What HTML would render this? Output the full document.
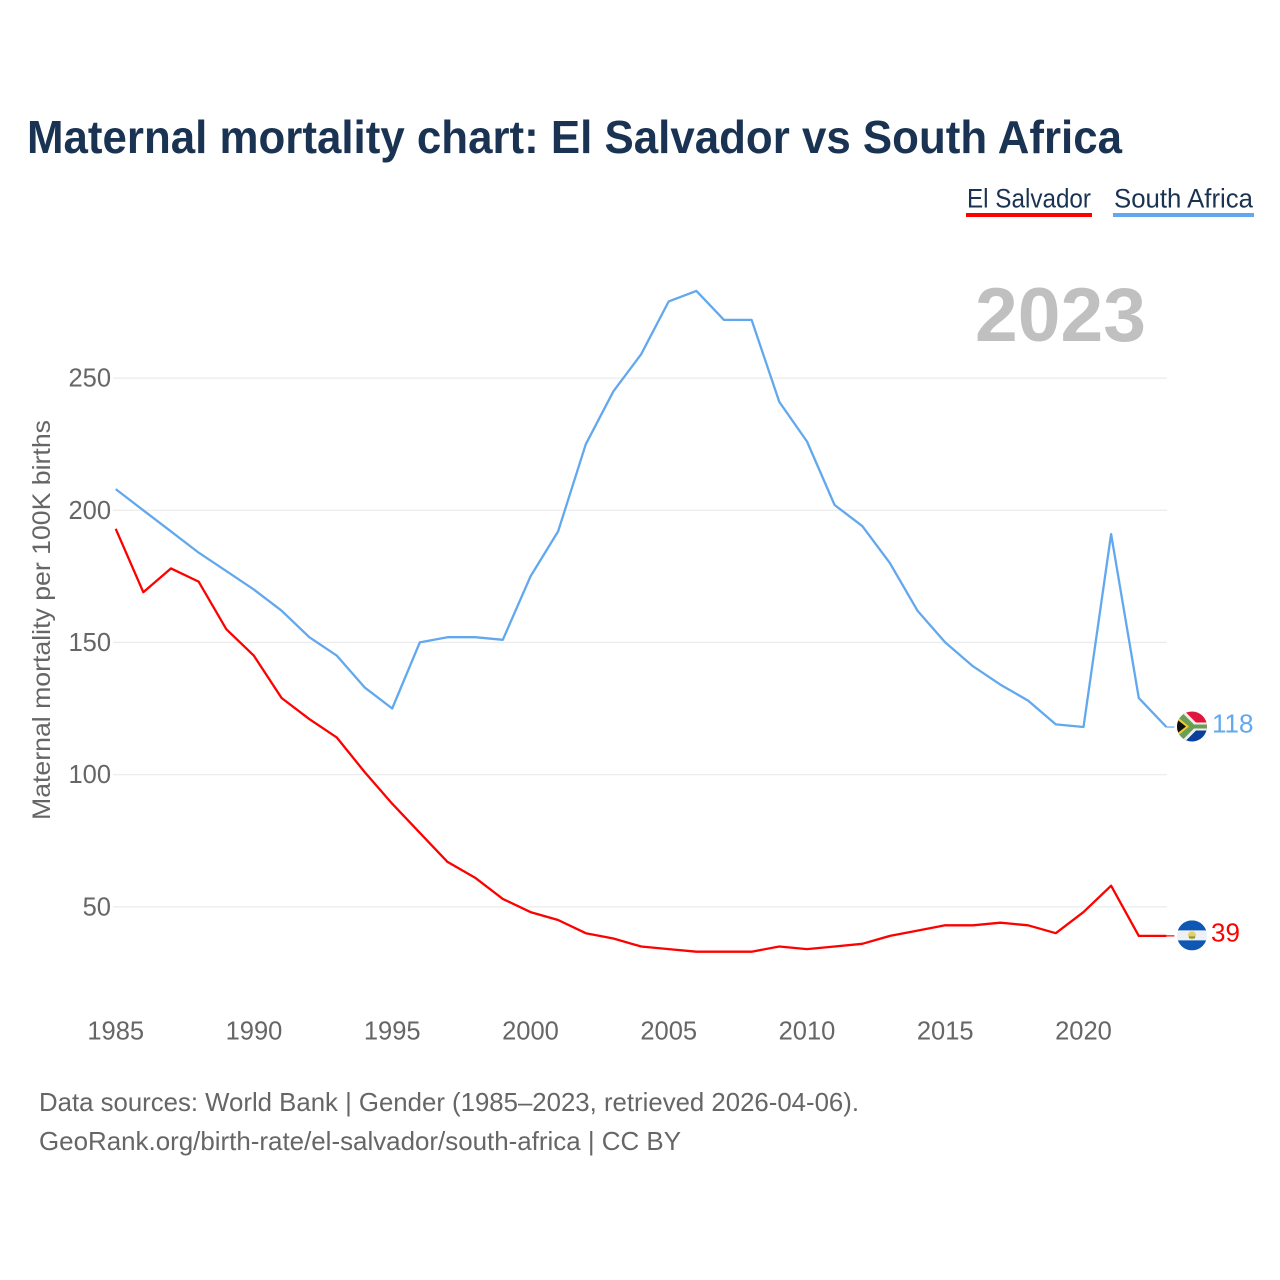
<!DOCTYPE html>
<html lang="en">
<head>
<meta charset="utf-8">
<title>Maternal mortality chart: El Salvador vs South Africa</title>
<style>
html,body{margin:0;padding:0;background:#fff;}
svg{display:block;font-family:"Liberation Sans",sans-serif;}
</style>
</head>
<body>
<svg id="chart" xmlns="http://www.w3.org/2000/svg" width="1280" height="1280" viewBox="0 0 1280 1280">
  <rect width="1280" height="1280" fill="#ffffff"/>
  <text x="27" y="153" font-size="46" font-weight="700" fill="#1a3353" textLength="1095" lengthAdjust="spacingAndGlyphs">Maternal mortality chart: El Salvador vs South Africa</text>
  <g>
    <text x="967" y="207.500" font-size="27" fill="#1a3353" textLength="124" lengthAdjust="spacingAndGlyphs">El Salvador</text>
    <rect x="966" y="213" width="126" height="4" fill="#ff0000"/>
  </g>
  <g>
    <text x="1114" y="207.500" font-size="27" fill="#1a3353" textLength="139" lengthAdjust="spacingAndGlyphs">South Africa</text>
    <rect x="1113" y="213" width="141" height="4" fill="#62a8ee"/>
  </g>
  <text x="975" y="341" font-size="76" font-weight="700" fill="#c0c0c0" textLength="171" lengthAdjust="spacingAndGlyphs">2023</text>
  <text transform="translate(50,820) rotate(-90)" font-size="25" fill="#666666" textLength="400" lengthAdjust="spacingAndGlyphs">Maternal mortality per 100K births</text>
  <g id="grid"></g>
  <g id="yticks"></g>
  <g id="xticks"></g>
  <g id="series"></g>
  <defs>
    <clipPath id="flag-clip"><circle cx="0" cy="0" r="15"/></clipPath>
  </defs>
  <g id="flag-za">
    <g clip-path="url(#flag-clip)">
      <rect x="-15" y="-15" width="30" height="15" fill="#e0173d"/>
      <rect x="-15" y="0" width="30" height="15" fill="#0c3f9c"/>
      <polygon points="-15,-16 -8,-16 4,-4 15,-4 15,4 4,4 -8,16 -15,16" fill="#f0f0ea"/>
      <polygon points="-15,-14 -10,-14 2,-2 15,-2 15,2 2,2 -10,14 -15,14" fill="#6a9e55"/>
      <polygon points="-15,-10 -3,0 -15,10" fill="#f5c92e"/>
      <polygon points="-15,-7 -6,0 -15,7" fill="#111111"/>
    </g>
  </g>
  <g id="flag-sv">
    <g clip-path="url(#flag-clip)">
      <rect x="-15" y="-15" width="30" height="30" fill="#eef0f5"/>
      <rect x="-15" y="-15" width="30" height="10" fill="#0f57b5"/>
      <rect x="-15" y="5" width="30" height="10" fill="#0f57b5"/>
      <circle cx="0" cy="0" r="4" fill="#e8cf62"/>
      <rect x="-3" y="1" width="6" height="2" fill="#6f9e5c"/>
    </g>
  </g>
  <text id="label-za" x="1212" font-size="26" fill="#62a8ee"></text>
  <text id="label-sv" x="1211" font-size="26" fill="#ff0000"></text>
  <text x="39" y="1111" font-size="26" fill="#666666" textLength="820" lengthAdjust="spacingAndGlyphs">Data sources: World Bank | Gender (1985–2023, retrieved 2026-04-06).</text>
  <text x="39" y="1150" font-size="26" fill="#666666" textLength="642" lengthAdjust="spacingAndGlyphs">GeoRank.org/birth-rate/el-salvador/south-africa | CC BY</text>
</svg>
<script>
const years = [1985,1986,1987,1988,1989,1990,1991,1992,1993,1994,1995,1996,1997,1998,1999,2000,2001,2002,2003,2004,2005,2006,2007,2008,2009,2010,2011,2012,2013,2014,2015,2016,2017,2018,2019,2020,2021,2022,2023];
const southAfrica = [208,200,192,184,177,170,162,152,145,133,125,150,152,152,151,175,192,225,245,259,279,283,272,272,241,226,202,194,180,162,150,141,134,128,119,118,191,129,118];
const elSalvador = [193,169,178,173,155,145,129,121,114,101,89,78,67,61,53,48,45,40,38,35,34,33,33,33,35,34,35,36,39,41,43,43,44,43,40,48,58,39,39];
const yTickValues = [50,100,150,200,250];
const xTickValues = [1985,1990,1995,2000,2005,2010,2015,2020];

const NS = 'http://www.w3.org/2000/svg';
function xScale(year){ return 115.7 + (year - 1985) * 27.65; }
function yScale(value){ return 906.8 - (value - 50) * 2.6435; }
function make(tag, attrs, parent){
  const el = document.createElementNS(NS, tag);
  Object.keys(attrs).forEach(function(k){ el.setAttribute(k, attrs[k]); });
  parent.appendChild(el);
  return el;
}
const grid = document.getElementById('grid');
const yticks = document.getElementById('yticks');
const xticks = document.getElementById('xticks');
const seriesGroup = document.getElementById('series');

yTickValues.forEach(function(v){
  const line = make('line', {x1:113, x2:1167, y1:yScale(v), y2:yScale(v), stroke:'#ececec', 'stroke-width':1.3}, grid);
  
  
  const t = make('text', {x:111, y:yScale(v)+8.5, 'text-anchor':'end', 'font-size':25.5, fill:'#666666'}, yticks);
  
  
  t.textContent = v;
});
xTickValues.forEach(function(y){
  const t = make('text', {x:xScale(y), y:1039.5, 'text-anchor':'middle', 'font-size':25.5, fill:'#666666'}, xticks);
  
  
  t.textContent = y;
});
function linePoints(values){
  const pts = values.map(function(v,i){ return xScale(years[i]).toFixed(1)+','+yScale(v).toFixed(1); });
  return pts.join(' ');
}
function addConnector(value, color, name){
  const c = make('line', {x1:xScale(years[years.length-1]), x2:xScale(years[years.length-1])+8, y1:yScale(value), y2:yScale(value), stroke:color, 'stroke-width':1.2}, seriesGroup);
  
  
}
const lineSA = make('polyline', {points:linePoints(southAfrica), fill:'none', stroke:'#62a8ee', 'stroke-width':2.3, 'stroke-linejoin':'round'}, seriesGroup);


const lineES = make('polyline', {points:linePoints(elSalvador), fill:'none', stroke:'#ff0000', 'stroke-width':2.3, 'stroke-linejoin':'round'}, seriesGroup);



const lastSA = southAfrica[southAfrica.length-1];
const lastES = elSalvador[elSalvador.length-1];
addConnector(lastSA, '#62a8ee', 'south-africa-connector');
addConnector(lastES, '#ff0000', 'el-salvador-connector');
document.getElementById('flag-za').setAttribute('transform', 'translate(1192,'+(yScale(lastSA)-0.5)+')');
document.getElementById('flag-sv').setAttribute('transform', 'translate(1192,'+(yScale(lastES)-0.5)+')');
const labelZA = document.getElementById('label-za');
labelZA.setAttribute('y', yScale(lastSA)+5.5);
labelZA.textContent = lastSA;
const labelSV = document.getElementById('label-sv');
labelSV.setAttribute('y', yScale(lastES)+5.5);
labelSV.textContent = lastES;
</script>
</body>
</html>
